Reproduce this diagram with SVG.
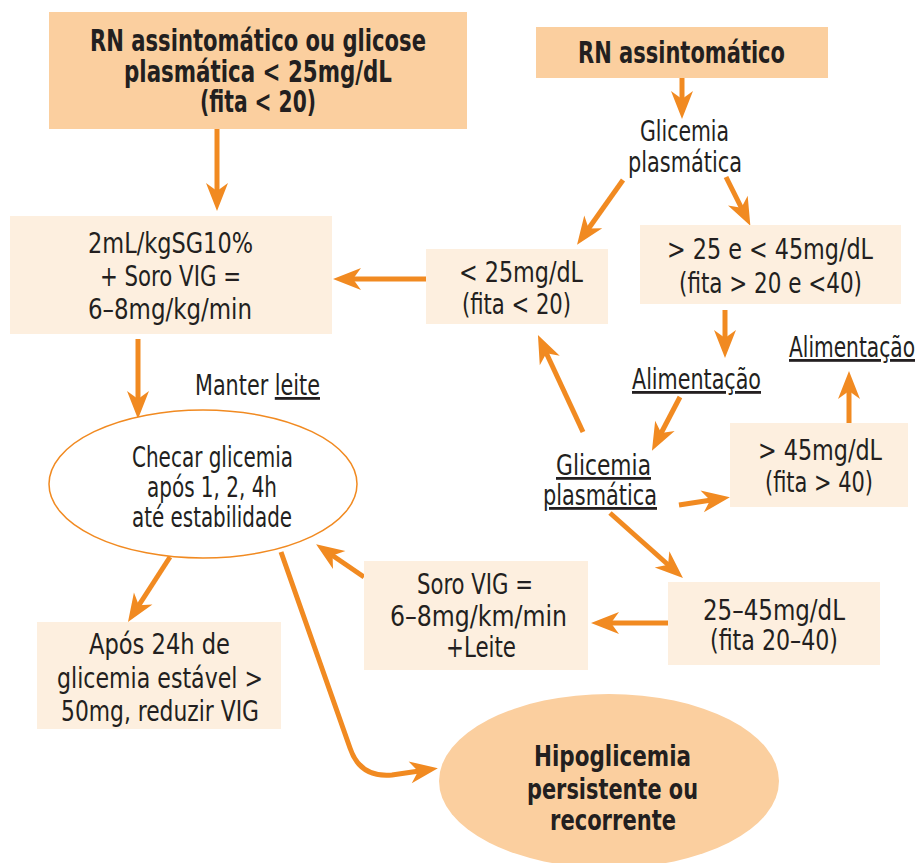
<svg xmlns="http://www.w3.org/2000/svg" width="924" height="863" viewBox="0 0 924 863">
<style>
text{font-family:"Liberation Sans Narrow","DejaVu Sans Condensed","Liberation Sans",sans-serif;fill:#231F20;text-anchor:start}
.b{font-weight:bold;font-size:30px}
.r{font-size:28px}
.dark{fill:#FBCF9F}
.light{fill:#FDEFDF}
.c{fill:none;stroke:#F18A21;stroke-width:5;marker-end:url(#ah)}
.u{text-decoration:underline}
</style>
<defs>
<marker id="ah" viewBox="-40 -14 44 28" refX="-12" refY="0" markerWidth="44" markerHeight="28" markerUnits="userSpaceOnUse" orient="auto">
<path d="M0,0 L-28,-11 L-20,0 L-28,11 Z" fill="#F18A21"/>
</marker>
</defs>
<g id="connectors">
<line class="c" x1="217" y1="129" x2="217" y2="199"/>
<line class="c" x1="682" y1="78" x2="682" y2="107"/>
<line class="c" x1="623" y1="180" x2="584" y2="235"/>
<line class="c" x1="726" y1="177" x2="745" y2="215"/>
<line class="c" x1="426" y1="279" x2="345" y2="279"/>
<line class="c" x1="138" y1="339" x2="138" y2="407"/>
<line class="c" x1="170" y1="557" x2="134.5" y2="612"/>
<path class="c" d="M281,552 L350,748 Q360,778 392,775 L426,770"/>
<line class="c" x1="364" y1="577" x2="326" y2="551"/>
<line class="c" x1="668" y1="623" x2="603" y2="623"/>
<line class="c" x1="583" y1="432" x2="543" y2="346"/>
<line class="c" x1="725" y1="310" x2="725" y2="346"/>
<line class="c" x1="680" y1="397" x2="657.5" y2="440"/>
<line class="c" x1="679" y1="505" x2="718" y2="499"/>
<line class="c" x1="849" y1="423" x2="849" y2="383"/>
<line class="c" x1="610" y1="513" x2="674" y2="570"/>
</g>
<g id="n1">
<rect class="dark" x="49" y="12" width="418" height="117"/>
<text class="b" x="90" y="51" textLength="336" lengthAdjust="spacingAndGlyphs">RN assintomático ou glicose</text>
<text class="b" x="124" y="82" textLength="268" lengthAdjust="spacingAndGlyphs">plasmática &lt; 25mg/dL</text>
<text class="b" x="200" y="112" textLength="116" lengthAdjust="spacingAndGlyphs">(fita &lt; 20)</text>
</g>
<g id="n2">
<rect class="dark" x="536" y="27" width="292" height="51"/>
<text class="b" x="578" y="63" textLength="207" lengthAdjust="spacingAndGlyphs">RN assintomático</text>
</g>
<g id="n3">
<text class="r" x="640" y="141" textLength="89" lengthAdjust="spacingAndGlyphs">Glicemia</text>
<text class="r" x="628" y="172" textLength="114" lengthAdjust="spacingAndGlyphs">plasmática</text>
</g>
<g id="n4">
<rect class="light" x="10" y="216" width="322" height="118"/>
<text class="r" x="88" y="253" textLength="165" lengthAdjust="spacingAndGlyphs">2mL/kgSG10%</text>
<text class="r" x="100" y="286" textLength="141" lengthAdjust="spacingAndGlyphs">+ Soro VIG =</text>
<text class="r" x="88" y="319" textLength="164" lengthAdjust="spacingAndGlyphs">6–8mg/kg/min</text>
</g>
<g id="n5">
<rect class="light" x="426" y="249" width="182" height="75"/>
<text class="r" x="459" y="282" textLength="124" lengthAdjust="spacingAndGlyphs">&lt; 25mg/dL</text>
<text class="r" x="462" y="314" textLength="109" lengthAdjust="spacingAndGlyphs">(fita &lt; 20)</text>
</g>
<g id="n6">
<rect class="light" x="640" y="225" width="261" height="79"/>
<text class="r" x="667" y="259" textLength="206" lengthAdjust="spacingAndGlyphs">&gt; 25 e &lt; 45mg/dL</text>
<text class="r" x="679" y="293" textLength="183" lengthAdjust="spacingAndGlyphs">(fita &gt; 20 e &lt;40)</text>
</g>
<g id="n7">
<text class="r" x="195" y="395" textLength="125" lengthAdjust="spacingAndGlyphs">Manter <tspan class="u">leite</tspan></text>
</g>
<g id="n8">
<ellipse cx="203" cy="484" rx="154" ry="74" fill="#FFFFFF" stroke="#F18A21" stroke-width="1.5"/>
<text class="r" x="132" y="467" textLength="161" lengthAdjust="spacingAndGlyphs">Checar glicemia</text>
<text class="r" x="147" y="497" textLength="130" lengthAdjust="spacingAndGlyphs">após 1, 2, 4h</text>
<text class="r" x="132" y="527" textLength="160" lengthAdjust="spacingAndGlyphs">até estabilidade</text>
</g>
<g id="n9">
<rect class="light" x="37" y="622" width="244" height="107"/>
<text class="r" x="89" y="654" textLength="141" lengthAdjust="spacingAndGlyphs">Após 24h de</text>
<text class="r" x="57" y="688" textLength="206" lengthAdjust="spacingAndGlyphs">glicemia estável &gt;</text>
<text class="r" x="61" y="721" textLength="198" lengthAdjust="spacingAndGlyphs">50mg, reduzir VIG</text>
</g>
<g id="n10">
<rect class="light" x="364" y="561" width="224" height="109"/>
<text class="r" x="417" y="594" textLength="116" lengthAdjust="spacingAndGlyphs">Soro VIG =</text>
<text class="r" x="390" y="626" textLength="177" lengthAdjust="spacingAndGlyphs">6–8mg/km/min</text>
<text class="r" x="446" y="657" textLength="70" lengthAdjust="spacingAndGlyphs">+Leite</text>
</g>
<g id="n11">
<rect class="light" x="668" y="582" width="212" height="83"/>
<text class="r" x="703" y="620" textLength="142" lengthAdjust="spacingAndGlyphs">25–45mg/dL</text>
<text class="r" x="710" y="650" textLength="128" lengthAdjust="spacingAndGlyphs">(fita 20–40)</text>
</g>
<g id="n12">
<text class="r u" x="556" y="475" textLength="95" lengthAdjust="spacingAndGlyphs">Glicemia </text>
<text class="r u" x="543" y="505" textLength="114" lengthAdjust="spacingAndGlyphs">plasmática</text>
</g>
<g id="n13">
<text class="r u" x="632" y="389" textLength="129" lengthAdjust="spacingAndGlyphs">Alimentação</text>
</g>
<g id="n14">
<rect class="light" x="730" y="423" width="178" height="84"/>
<text class="r" x="758" y="460" textLength="124" lengthAdjust="spacingAndGlyphs">&gt; 45mg/dL</text>
<text class="r" x="765" y="492" textLength="108" lengthAdjust="spacingAndGlyphs">(fita &gt; 40)</text>
</g>
<g id="n15">
<text class="r u" x="789" y="357" textLength="126" lengthAdjust="spacingAndGlyphs">Alimentação</text>
</g>
<g id="n16">
<ellipse class="dark" cx="609" cy="781" rx="170" ry="87"/>
<text class="b" x="534" y="766" textLength="157" lengthAdjust="spacingAndGlyphs" style="font-size:28px">Hipoglicemia</text>
<text class="b" x="527" y="799" textLength="171" lengthAdjust="spacingAndGlyphs" style="font-size:28px">persistente ou</text>
<text class="b" x="550" y="830" textLength="126" lengthAdjust="spacingAndGlyphs" style="font-size:28px">recorrente</text>
</g>
</svg>
